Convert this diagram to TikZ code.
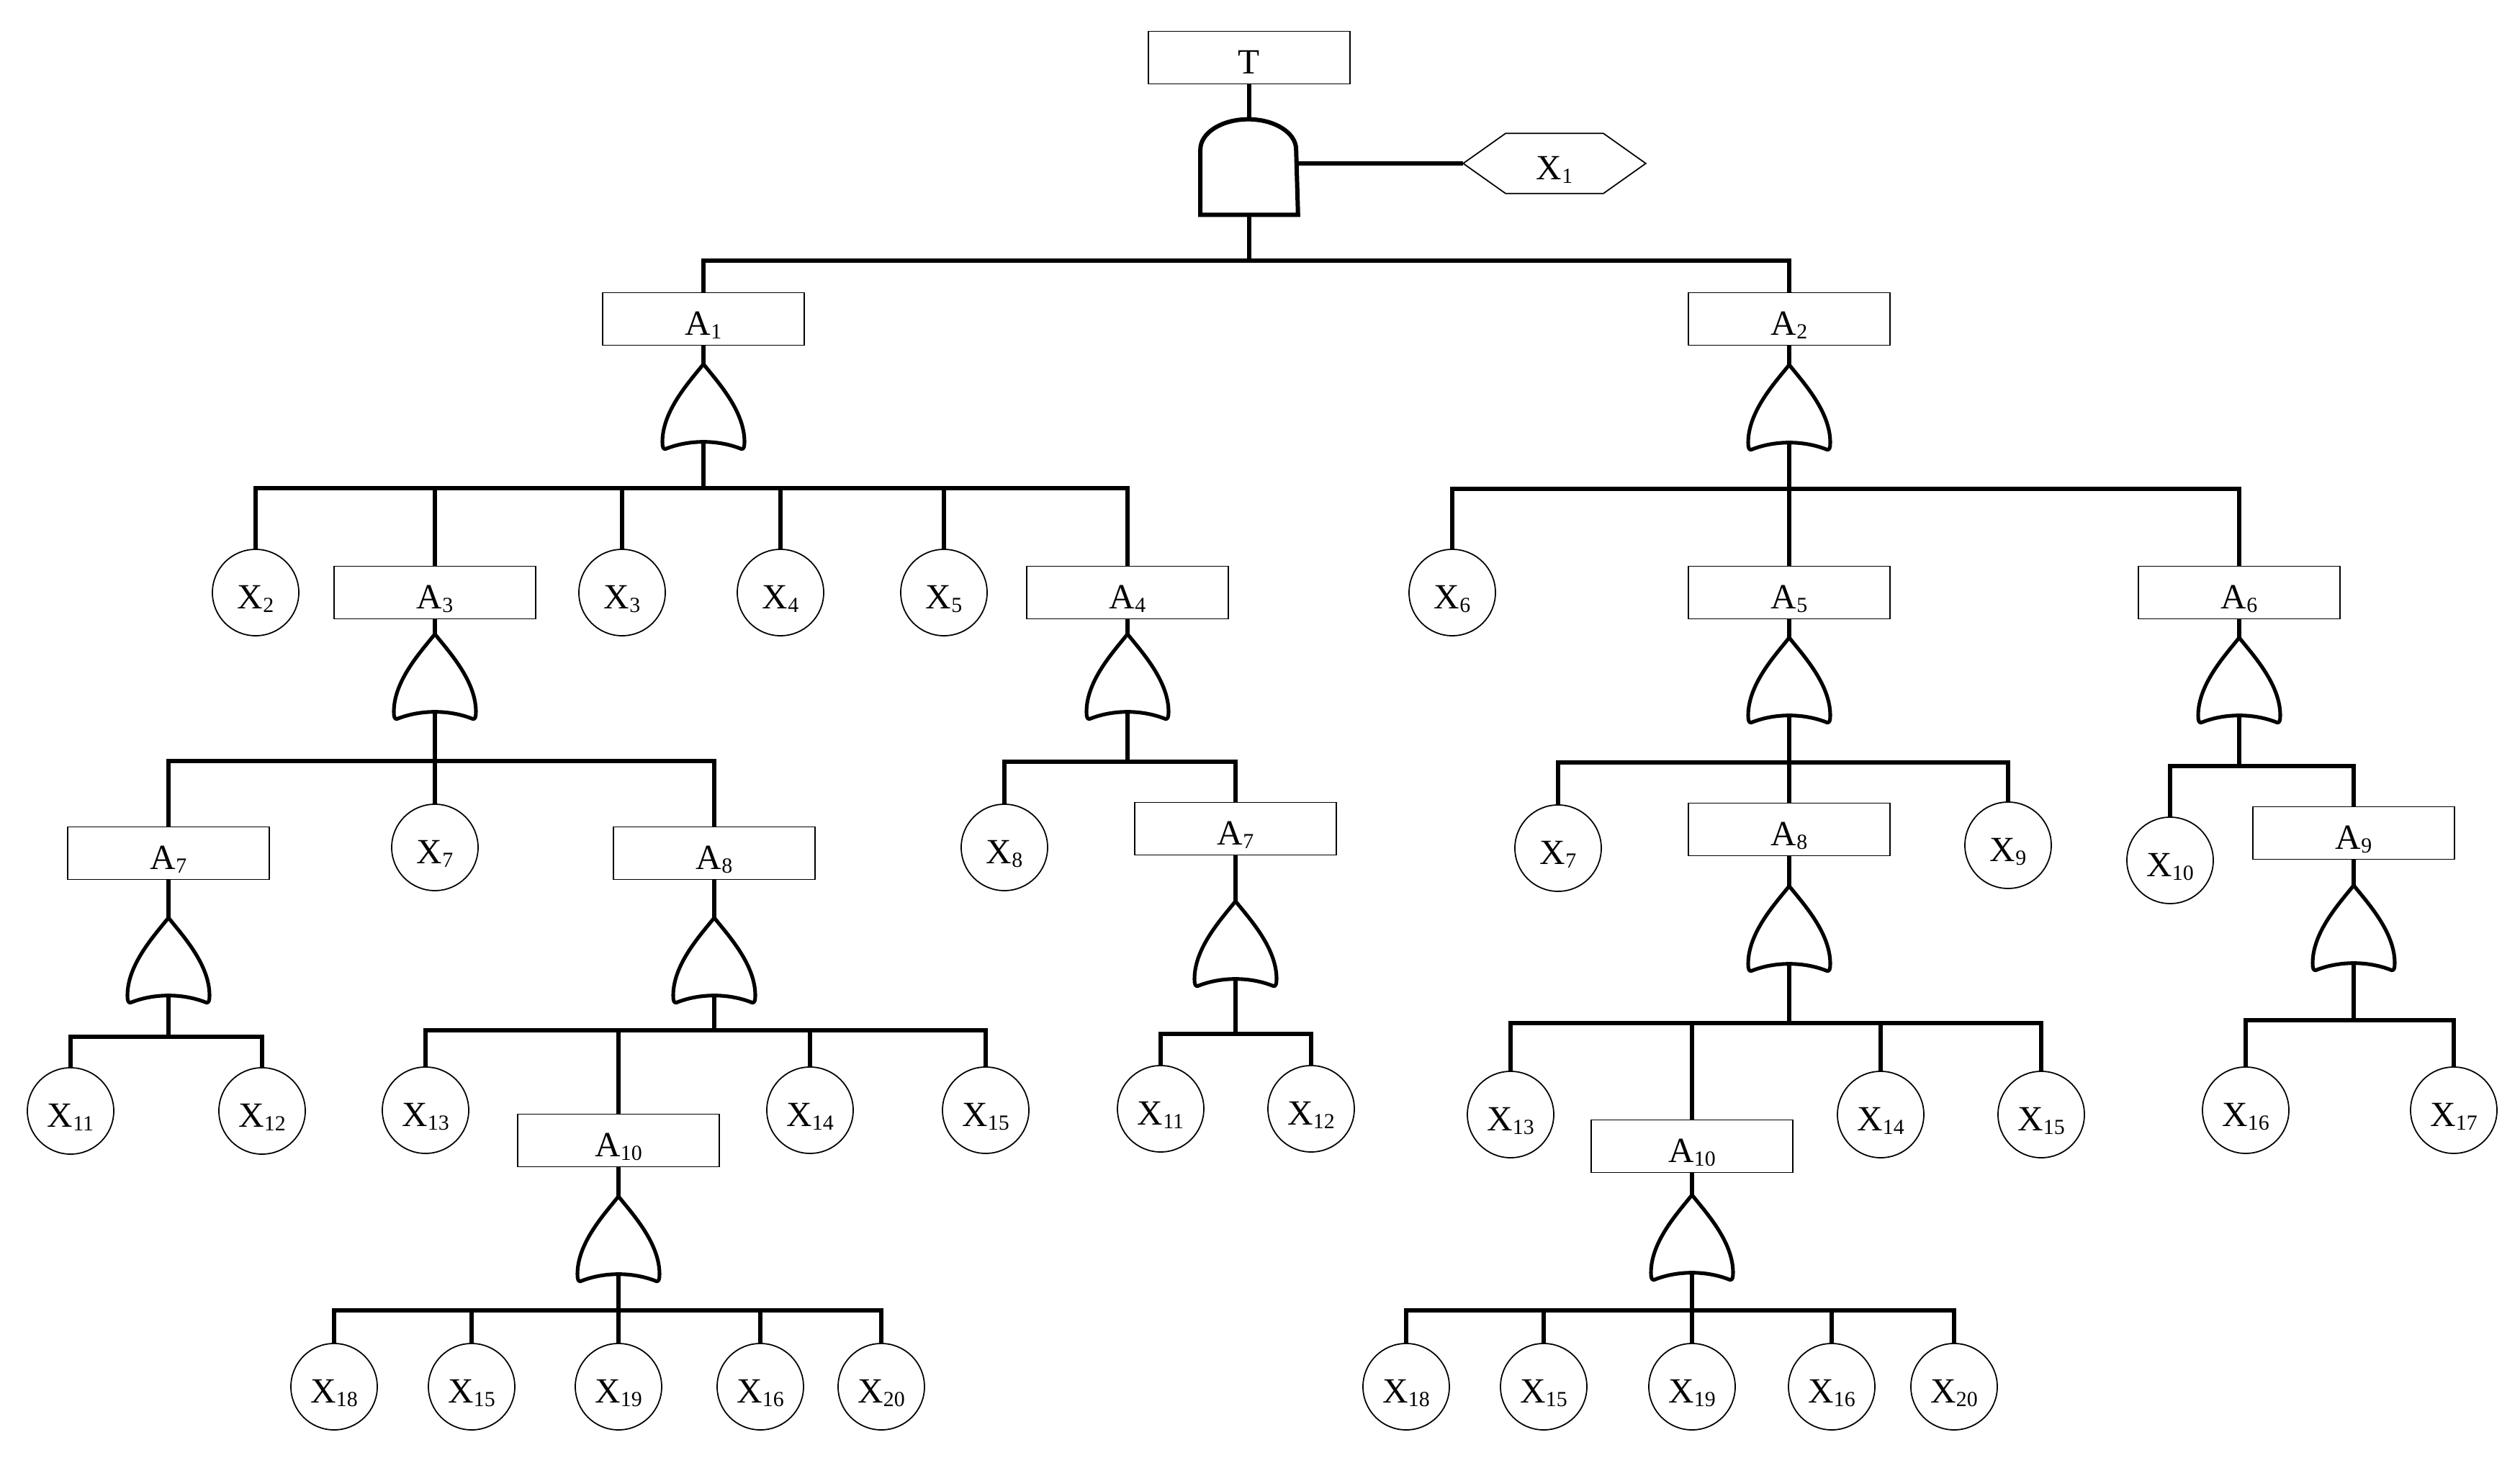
\documentclass[tikz,border=0pt]{standalone}
\usepackage{fontspec}
\setmainfont{Liberation Serif}
\tikzset{every picture/.style={line width=0.75pt}}

% small lowered index
\newcommand{\ix}[1]{\raisebox{-1.5pt}{\fontsize{8.5}{9}\selectfont #1}}

% OR gate: name, centre
\newcommand{\orgate}[2]{%
    \node[gatenode] (#1) at (#2) {};
    \begin{scope}[shift={(#1.north)}]
        \draw[gateline] (0,0) .. controls (-0.2,-0.25) and (-0.57,-0.65) .. (-0.57,-1.08)
            .. controls (-0.57,-1.15) and (-0.56,-1.18) .. (-0.53,-1.18)
            .. controls (-0.2,-1.047) and (0.2,-1.047) .. (0.53,-1.18)
            .. controls (0.56,-1.18) and (0.57,-1.15) .. (0.57,-1.08)
            .. controls (0.57,-0.65) and (0.2,-0.25) .. (0,0) -- cycle;
    \end{scope}}

\begin{document}
\begin{tikzpicture}[
    lbl/.style={font=\fontsize{14}{16}\selectfont, text height=0.5cm, text depth=0.05cm},
    evbox/.style={lbl, draw, line width=0.45pt, minimum width=2.8cm, minimum height=0.73cm, inner sep=0pt},
    evcirc/.style={lbl, circle, draw, line width=0.5pt, minimum size=1.2cm, inner sep=0pt},
    gatenode/.style={inner sep=0pt, minimum width=1.14cm, minimum height=1.08cm},
    gateline/.style={line width=1.45pt, line join=round},
    wire/.style={line width=1.5pt},
    bus/.style={line width=1.9pt, line cap=rect}]
    \useasboundingbox (0,0) rectangle (35,-20.32);

    % Top event, AND gate and X1
    \node[evbox] (T) at (17.35,-0.80) {T};
    \node[inner sep=0pt, minimum width=1.33cm, minimum height=1.30cm] (g0) at (17.35,-2.32) {};
    \draw[line width=1.7pt] (g0.south west) -- ([yshift=-0.42cm]g0.north west)
        arc[start angle=180, end angle=0, x radius=0.665cm, y radius=0.42cm] -- (g0.south east) -- cycle;
    \node[lbl, inner sep=0pt, minimum width=2.51cm, minimum height=0.81cm] (X1) at (21.59,-2.27) {X\ix{1}};
    \draw[line width=0.5pt] ([xshift=0.59cm]X1.north west) -- ([xshift=-0.59cm]X1.north east) -- (X1.east)
        -- ([xshift=-0.59cm]X1.south east) -- ([xshift=0.59cm]X1.south west) -- (X1.west) -- cycle;
    \draw[wire] (T) -- (g0);
    \draw[wire] (g0.east |- X1) -- (X1.west);

    \node[evbox] (A1) at (9.77,-4.43) {A\ix{1}};
    \node[evbox] (A2) at (24.85,-4.43) {A\ix{2}};
    \coordinate (b0) at (17.35,-3.62);
    \draw[wire] (g0) -- (b0);
    \draw[bus] (b0 -| A1) -- (b0 -| A2);
    \foreach \c in {A1,A2} \draw[wire] (b0 -| \c) -- (\c);

    % A1 branch
    \orgate{g1}{9.77,-5.61}
    \draw[wire] (A1) -- (g1);
    \node[evcirc] (X2) at (3.55,-8.23) {X\ix{2}};
    \node[evbox] (A3) at (6.04,-8.23) {A\ix{3}};
    \node[evcirc] (X3) at (8.64,-8.23) {X\ix{3}};
    \node[evcirc] (X4) at (10.84,-8.23) {X\ix{4}};
    \node[evcirc] (X5) at (13.11,-8.23) {X\ix{5}};
    \node[evbox] (A4) at (15.66,-8.23) {A\ix{4}};
    \coordinate (b1) at (9.77,-6.78);
    \draw[wire] (g1) -- (b1);
    \draw[bus] (b1 -| X2) -- (b1 -| A4);
    \foreach \c in {X2,A3,X3,X4,X5,A4} \draw[wire] (b1 -| \c) -- (\c);

    % A3 branch
    \orgate{g3}{6.04,-9.36}
    \draw[wire] (A3) -- (g3);
    \node[evbox] (A7a) at (2.34,-11.85) {A\ix{7}};
    \node[evcirc] (X7a) at (6.04,-11.77) {X\ix{7}};
    \node[evbox] (A8a) at (9.92,-11.85) {A\ix{8}};
    \coordinate (b3) at (6.04,-10.57);
    \draw[wire] (g3) -- (b3);
    \draw[bus] (b3 -| A7a) -- (b3 -| A8a);
    \foreach \c in {A7a,X7a,A8a} \draw[wire] (b3 -| \c) -- (\c);

    % A7 under A3
    \orgate{g7a}{2.34,-13.30}
    \draw[wire] (A7a) -- (g7a);
    \node[evcirc] (X11a) at (0.98,-15.43) {X\ix{11}};
    \node[evcirc] (X12a) at (3.64,-15.43) {X\ix{12}};
    \coordinate (b7a) at (2.34,-14.40);
    \draw[wire] (g7a) -- (b7a);
    \draw[bus] (b7a -| X11a) -- (b7a -| X12a);
    \foreach \c in {X11a,X12a} \draw[wire] (b7a -| \c) -- (\c);

    % A8 under A3
    \orgate{g8a}{9.92,-13.30}
    \draw[wire] (A8a) -- (g8a);
    \node[evcirc] (X13a) at (5.91,-15.42) {X\ix{13}};
    \node[evbox] (A10a) at (8.59,-15.84) {A\ix{10}};
    \node[evcirc] (X14a) at (11.25,-15.42) {X\ix{14}};
    \node[evcirc] (X15a) at (13.69,-15.42) {X\ix{15}};
    \coordinate (b8a) at (9.92,-14.31);
    \draw[wire] (g8a) -- (b8a);
    \draw[bus] (b8a -| X13a) -- (b8a -| X15a);
    \foreach \c in {X13a,A10a,X14a,X15a} \draw[wire] (b8a -| \c) -- (\c);

    % A10 under A8
    \orgate{g10a}{8.59,-17.17}
    \draw[wire] (A10a) -- (g10a);
    \node[evcirc] (X18a) at (4.64,-19.26) {X\ix{18}};
    \node[evcirc] (X15b) at (6.55,-19.26) {X\ix{15}};
    \node[evcirc] (X19a) at (8.59,-19.26) {X\ix{19}};
    \node[evcirc] (X16a) at (10.56,-19.26) {X\ix{16}};
    \node[evcirc] (X20a) at (12.24,-19.26) {X\ix{20}};
    \coordinate (b10a) at (8.59,-18.20);
    \draw[wire] (g10a) -- (b10a);
    \draw[bus] (b10a -| X18a) -- (b10a -| X20a);
    \foreach \c in {X18a,X15b,X19a,X16a,X20a} \draw[wire] (b10a -| \c) -- (\c);

    % A4 branch
    \orgate{g4}{15.66,-9.36}
    \draw[wire] (A4) -- (g4);
    \node[evcirc] (X8) at (13.95,-11.77) {X\ix{8}};
    \node[evbox] (A7b) at (17.16,-11.51) {A\ix{7}};
    \coordinate (b4) at (15.66,-10.58);
    \draw[wire] (g4) -- (b4);
    \draw[bus] (b4 -| X8) -- (b4 -| A7b);
    \foreach \c in {X8,A7b} \draw[wire] (b4 -| \c) -- (\c);

    % A7 under A4
    \orgate{g7b}{17.16,-13.07}
    \draw[wire] (A7b) -- (g7b);
    \node[evcirc] (X11b) at (16.12,-15.40) {X\ix{11}};
    \node[evcirc] (X12b) at (18.21,-15.40) {X\ix{12}};
    \coordinate (b7b) at (17.16,-14.36);
    \draw[wire] (g7b) -- (b7b);
    \draw[bus] (b7b -| X11b) -- (b7b -| X12b);
    \foreach \c in {X11b,X12b} \draw[wire] (b7b -| \c) -- (\c);

    % A2 branch
    \orgate{g2}{24.85,-5.62}
    \draw[wire] (A2) -- (g2);
    \node[evcirc] (X6) at (20.17,-8.23) {X\ix{6}};
    \node[evbox] (A5) at (24.85,-8.23) {A\ix{5}};
    \node[evbox] (A6) at (31.10,-8.23) {A\ix{6}};
    \coordinate (b2) at (24.85,-6.79);
    \draw[wire] (g2) -- (b2);
    \draw[bus] (b2 -| X6) -- (b2 -| A6);
    \foreach \c in {X6,A5,A6} \draw[wire] (b2 -| \c) -- (\c);

    % A5 branch
    \orgate{g5}{24.85,-9.41}
    \draw[wire] (A5) -- (g5);
    \node[evcirc] (X7b) at (21.64,-11.78) {X\ix{7}};
    \node[evbox] (A8b) at (24.85,-11.52) {A\ix{8}};
    \node[evcirc] (X9) at (27.89,-11.74) {X\ix{9}};
    \coordinate (b5) at (24.85,-10.59);
    \draw[wire] (g5) -- (b5);
    \draw[bus] (b5 -| X7b) -- (b5 -| X9);
    \foreach \c in {X7b,A8b,X9} \draw[wire] (b5 -| \c) -- (\c);

    % A8 under A5
    \orgate{g8b}{24.85,-12.86}
    \draw[wire] (A8b) -- (g8b);
    \node[evcirc] (X13b) at (20.98,-15.48) {X\ix{13}};
    \node[evbox] (A10b) at (23.50,-15.92) {A\ix{10}};
    \node[evcirc] (X14b) at (26.12,-15.48) {X\ix{14}};
    \node[evcirc] (X15c) at (28.35,-15.48) {X\ix{15}};
    \coordinate (b8b) at (24.85,-14.21);
    \draw[wire] (g8b) -- (b8b);
    \draw[bus] (b8b -| X13b) -- (b8b -| X15c);
    \foreach \c in {X13b,A10b,X14b,X15c} \draw[wire] (b8b -| \c) -- (\c);

    % A10 under A8
    \orgate{g10b}{23.50,-17.15}
    \draw[wire] (A10b) -- (g10b);
    \node[evcirc] (X18b) at (19.53,-19.26) {X\ix{18}};
    \node[evcirc] (X15d) at (21.44,-19.26) {X\ix{15}};
    \node[evcirc] (X19b) at (23.50,-19.26) {X\ix{19}};
    \node[evcirc] (X16b) at (25.44,-19.26) {X\ix{16}};
    \node[evcirc] (X20b) at (27.14,-19.26) {X\ix{20}};
    \coordinate (b10b) at (23.50,-18.20);
    \draw[wire] (g10b) -- (b10b);
    \draw[bus] (b10b -| X18b) -- (b10b -| X20b);
    \foreach \c in {X18b,X15d,X19b,X16b,X20b} \draw[wire] (b10b -| \c) -- (\c);

    % A6 branch
    \orgate{g6}{31.10,-9.41}
    \draw[wire] (A6) -- (g6);
    \node[evcirc] (X10) at (30.14,-11.95) {X\ix{10}};
    \node[evbox] (A9) at (32.69,-11.57) {A\ix{9}};
    \coordinate (b6) at (31.10,-10.64);
    \draw[wire] (g6) -- (b6);
    \draw[bus] (b6 -| X10) -- (b6 -| A9);
    \foreach \c in {X10,A9} \draw[wire] (b6 -| \c) -- (\c);

    % A9 branch
    \orgate{g9}{32.69,-12.85}
    \draw[wire] (A9) -- (g9);
    \node[evcirc] (X16c) at (31.19,-15.42) {X\ix{16}};
    \node[evcirc] (X17) at (34.08,-15.42) {X\ix{17}};
    \coordinate (b9) at (32.69,-14.17);
    \draw[wire] (g9) -- (b9);
    \draw[bus] (b9 -| X16c) -- (b9 -| X17);
    \foreach \c in {X16c,X17} \draw[wire] (b9 -| \c) -- (\c);
\end{tikzpicture}
\end{document}
